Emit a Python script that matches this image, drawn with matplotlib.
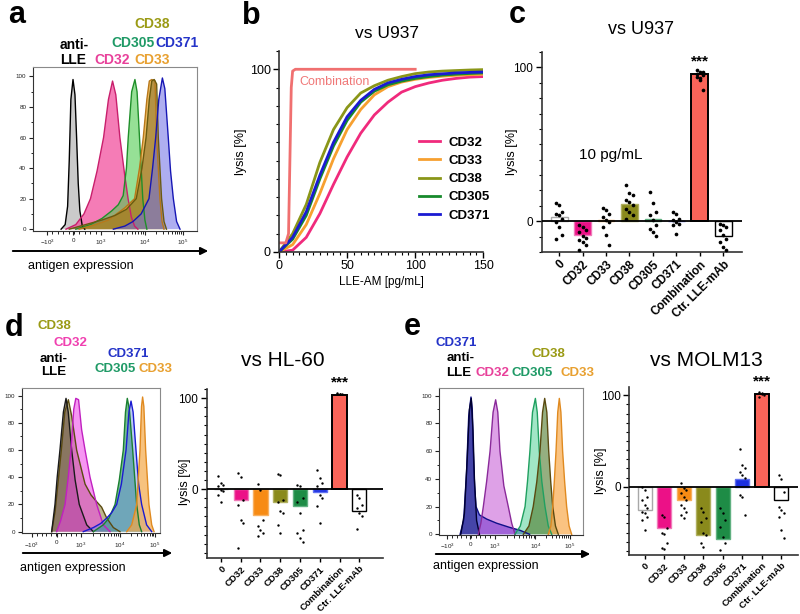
import numpy as np
import matplotlib
matplotlib.use("Agg")
import matplotlib.pyplot as plt
from matplotlib.patches import FancyArrowPatch
from matplotlib.ticker import MultipleLocator, FixedLocator

plt.rcParams["font.family"] = ["Liberation Sans", "DejaVu Sans"]
plt.rcParams["mathtext.fontset"] = "custom"
plt.rcParams["mathtext.rm"] = "Liberation Sans"

W, H = 800, 614

# ---------------------------------------------------------------- data
CATS = ["0", "CD32", "CD33", "CD38", "CD305", "CD371", "Combination", "Ctr. LLE-mAb"]

# panel b: lysis vs LLE-AM dose
B_X = [0, 10, 20, 30, 40, 50, 60, 70, 80, 90, 100, 110, 120, 130, 140, 150]
B_CD32 = [0, 1, 8, 21, 37, 52, 65, 75, 82, 87.5, 90.5, 92.5, 94, 95, 95.7, 96]
B_CD33 = [0, 4, 15, 32, 51, 67, 78, 86, 90.5, 93, 94.5, 95.5, 96.2, 96.7, 97, 97.3]
B_CD38 = [0, 10, 26, 49, 67, 79, 87, 91, 94, 96, 97.6, 98.5, 99, 99.3, 99.6, 99.8]
B_CD305 = [0, 7, 20, 40, 58, 72, 82, 88, 91.5, 93.5, 95, 96, 96.8, 97.3, 97.7, 98]
B_CD371 = [0, 8, 22, 42, 60, 74, 83, 89, 92.5, 94.5, 96, 97, 97.5, 98, 98.3, 98.5]
B_COMB_X = [0, 5, 7, 8, 9, 10, 12, 100]
B_COMB_Y = [5, 5, 10, 50, 90, 99, 100, 100]

# panel c: vs U937, 10 pg/mL
C_BARS = [3, -9, 0.5, 11, 1.5, 0.3, 96, -9.5]
C_DOTS = [
    [12.1, 10.4, 6.1, 5.0, 3.9, 1.7, -0.4, -3.7, -9.1, -11.3],
    [-2.6, -3.7, -5.8, -6.9, -9.7, -10.6, -12.3, -13.4, -15.6, -18.8],
    [8.9, 7.1, 5.0, 2.8, 0.6, -0.4, -3.7, -9.1, -15.6],
    [23.4, 18.4, 16.9, 13.6, 12.6, 10.4, 8.2, 6.1, 3.9, 1.7],
    [19, 11.9, 6.1, 3.9, 0.6, -2.6, -4.8, -6.9, -9.7],
    [6.1, 5.0, 1.7, 0.6, -0.4, -1.5, -2.6, -8.0],
    [96, 97, 95, 94, 93, 97, 98, 92, 85],
    [-2, -2.6, -3.7, -5.8, -9.1, -11.3, -13.4, -16.7, -18.8],
]

# panel d: vs HL-60
D_BARS = [0.3, -12, -28, -14, -19, -3, 103, -24]
D_DOTS = [
    [13.9, 6.6, 4.8, 2.9, -0.7, -2.6, -6.2, -13.6],
    [17.6, 13.2, -11.7, -17.2, -33.7, -37.4, -64.8],
    [5.9, -0.7, -33.7, -41, -44.7, -48.4, -52],
    [16.8, 15.8, -11.7, -13.6, -24.5, -26.4, -39.2, -48.4],
    [4.8, 3.7, -9.9, -13.6, -26.4, -44.7, -48.4, -53.8, -58.6],
    [21.2, 12.1, 6.6, 2.9, -6.2, -9.9, -19, -37.4],
    [106, 105, 104, 105, 104],
    [-6.2, -9.9, -17.2, -20.9, -26.4, -30, -43.6],
]

# panel e: vs MOLM13
E_BARS = [-25, -45, -14, -53, -57, 9, 101, -14]
E_DOTS = [
    [-0.7, -3.6, -10.9, -14.5, -20, -23.6, -27.3, -29.1, -32.7, -36.4, -47.3],
    [-30.9, -32.7, -45.5, -50.9, -51.6, -61.8, -67.3, -68],
    [3.6, -1.8, -3.6, -7.3, -10.9, -14.5, -20, -23.6, -27.3, -30.9, -34.5],
    [-23.6, -27.3, -34.5, -38.2, -50.9, -52.7, -61.8, -65.5],
    [-23.6, -29.1, -36.4, -43.6, -54.5, -61.8, -69.1],
    [41.8, 23.6, 20, 16.4, 12.7, 9.1, -9.1, -10.9, -30.9],
    [103.6, 101.8, 100, 98.2, 102],
    [12.7, 8, -5.5, -21.8, -25.5, -29.1, -32.7, -47.3, -56.4],
]

# flow histograms: x in display channel units (0-100 across the plot box), y in % of max
HIST_TICK_LABELS = ["$-10^3$", "0", "$10^3$", "$10^4$", "$10^5$"]
A_TICKS = [8.4, 24.3, 41.4, 68.3, 91.6]
D_TICKS = [7.0, 25.1, 42.8, 71.0, 96.4]
E_TICKS = [5.4, 21.6, 38.5, 67.0, 91.0]

A_LLE_X = [17, 19.5, 21, 22, 23, 24.3, 25.5, 26.5, 27.5, 28.5, 30, 31.5]
A_LLE_Y = [0, 3, 15, 45, 85, 98, 88, 60, 30, 12, 2, 0]
A_CD32_X = [20, 26, 31, 35, 39, 43, 46, 48.5, 50.5, 53, 56, 58, 60, 62, 64]
A_CD32_Y = [0, 3, 10, 20, 38, 60, 85, 97, 88, 60, 35, 20, 8, 2, 0]
A_CD305_X = [26, 35, 42, 48, 52, 55, 57, 58.1, 60.2, 62.2, 63.5, 65, 67, 68.3, 69.5]
A_CD305_Y = [0, 3, 7, 12, 16, 22, 40, 60, 90, 98, 90, 60, 20, 6, 0]
A_CD33_X = [28, 38, 46, 51, 56, 62, 65, 67.3, 69.5, 71, 72.5, 74.5, 75.5, 77.5, 78.8, 80]
A_CD33_Y = [0, 3, 6, 10, 14, 20, 40, 60, 85, 97, 98, 97, 60, 20, 5, 0]
A_CD38_X = [22, 32, 42, 50, 57, 63, 66.5, 69, 71, 72.5, 74, 75.5, 76.5, 78.5, 80, 81.5]
A_CD38_Y = [0, 3, 6, 9, 13, 20, 40, 60, 85, 97, 98, 95, 60, 20, 5, 0]
A_CD371_X = [49, 56, 61, 66, 70.8, 73, 74.9, 76.8, 79, 80.5, 82.6, 84, 85.7, 87.7, 89.8]
A_CD371_Y = [0, 2, 5, 10, 20, 40, 60, 85, 99, 92, 60, 38, 20, 5, 0]

D_LLE_X = [21.5, 23.9, 25.5, 27.5, 30, 31.9, 33.5, 36, 38.5, 41.5, 46.9, 51.7]
D_LLE_Y = [0, 20, 40, 60, 88, 98, 88, 60, 38, 20, 5, 0]
D_CD38_X = [21.5, 24, 26, 28.5, 31, 33.6, 36, 39.6, 45.7, 50, 54.1, 57.7, 61.4, 66.2, 71]
D_CD38_Y = [0, 15, 35, 60, 88, 97, 85, 60, 35, 27, 22, 18, 10, 3, 0]
D_CD32_X = [25.1, 28, 31.2, 33.5, 35.5, 37.5, 39, 41, 43.2, 45.7, 49.3, 54.1, 58.9, 63.8]
D_CD32_Y = [0, 8, 20, 40, 60, 90, 98, 97, 75, 60, 40, 20, 5, 0]
D_CD305_X = [51.7, 58.9, 63, 67.4, 70.5, 73.4, 75, 76.3, 77.8, 80.2, 83.1, 85, 86.7]
D_CD305_Y = [0, 5, 10, 20, 38, 60, 88, 98, 90, 60, 20, 5, 0]
D_CD371_X = [44.4, 51.7, 57, 61.4, 65, 68.6, 72, 75.4, 77.5, 79, 80.5, 82.6, 84.5, 86.7, 90.3, 94]
D_CD371_Y = [0, 3, 6, 10, 14, 20, 35, 60, 88, 96, 88, 60, 35, 20, 5, 0]
D_CD33_X = [75.9, 79.5, 83.1, 85.5, 86.6, 87.4, 88.3, 89.6, 92, 94, 95.7]
D_CD33_Y = [0, 5, 20, 60, 92, 99, 92, 60, 20, 5, 0]

E_CD371_X = [14.5, 17, 19, 20.5, 22.1, 23, 23.7, 24.6, 25.6, 28, 33, 40, 49, 56, 63]
E_CD371_Y = [0, 10, 45, 85, 99, 90, 60, 35, 20, 14, 11, 8, 5, 3, 0]
E_LLE_X = [15, 17.5, 19.5, 21, 22.3, 23.5, 24.5, 26, 28]
E_LLE_Y = [0, 15, 55, 90, 98, 75, 40, 10, 0]
E_CD32_X = [27.2, 29, 30.7, 33, 35.4, 37.5, 39.3, 40.8, 42.3, 45, 48.1, 50.5, 52.8]
E_CD32_Y = [0, 8, 20, 38, 60, 88, 97, 88, 60, 35, 20, 8, 0]
E_CD305_X = [52.8, 56.5, 59.8, 61.5, 63.2, 65, 67, 68.3, 69.7, 71.5, 73.7, 76, 78.4]
E_CD305_Y = [0, 6, 20, 38, 60, 88, 98, 88, 60, 38, 20, 6, 0]
E_CD38_X = [58.6, 62.5, 65.5, 68, 70.2, 72, 73.5, 75, 76.3, 77.7, 79.1, 81, 83]
E_CD38_Y = [0, 6, 20, 38, 60, 88, 98, 88, 60, 38, 20, 6, 0]
E_CD33_X = [76, 77.8, 79.1, 80.2, 81.4, 82.6, 83.7, 84.8, 86, 87.4, 88.8, 90.5, 92.3]
E_CD33_Y = [0, 6, 20, 38, 60, 88, 98, 88, 60, 38, 20, 6, 0]

# ---------------------------------------------------------------- colours
OLIVE_T, GREEN_T, BLUE_T = "#9a9a14", "#1f9a66", "#2433c8"
PINK_T, ORANGE_T = "#e8409a", "#e8a030"
BAR_COLORS = ["white", "#ec1187", "#f78b14", "#8a8a1c", "#1e8c46", "#1a2ee0", "#fa6459", "white"]
BAR_EDGES = ["#a8a8a8", "#f07ab8", "#f8b060", "#b0b060", "#60b080", "#6070f0", "black", "black"]
C_BAR_COLORS = BAR_COLORS[:4] + ["#c4dcd2"] + BAR_COLORS[5:]


def box(left, top, right, bottom):
    return [left / W, 1 - bottom / H, (right - left) / W, (bottom - top) / H]


def ftext(fig, x, y, s, **kw):
    kw.setdefault("ha", "center")
    kw.setdefault("va", "center")
    fig.text(x / W, 1 - y / H, s, **kw)


def arrow(fig, x0, x1, y):
    fig.add_artist(FancyArrowPatch((x0 / W, 1 - y / H), (x1 / W, 1 - y / H),
                                   transform=fig.transFigure, arrowstyle="-|>",
                                   mutation_scale=11, lw=1.4, color="black"))


def style_hist(ax, ticks, ylim):
    ax.set_xlim(0, 100)
    ax.set_ylim(*ylim)
    for s in ax.spines.values():
        s.set_color("#8a8a8a")
        s.set_linewidth(0.8)
    ax.spines["left"].set_color("#333333")
    ax.spines["bottom"].set_color("#333333")
    ax.set_xticks(ticks, HIST_TICK_LABELS, fontsize=4.5)
    minors = list(np.linspace(ticks[0], ticks[2], 11))
    for a, b in zip(ticks[2:-1], ticks[3:]):
        minors += [a + (b - a) * np.log10(m) for m in range(2, 10)]
    ax.xaxis.set_minor_locator(FixedLocator(minors))
    ax.set_yticks([0, 20, 40, 60, 80, 100], ["0", "20", "40", "60", "80", "100"], fontsize=4.5)
    ax.yaxis.set_minor_locator(MultipleLocator(10))
    ax.tick_params(length=3, width=0.8, pad=2, colors="#222222")
    ax.tick_params(which="minor", length=1.8, width=0.6)


def hist(ax, x, y, fill, edge, alpha):
    ax.fill(x, y, color=fill, alpha=alpha, lw=0)
    ax.plot(x, y, color=edge, lw=1.0)


def bar_panel(ax, bars, dots, colors, xlim, ylim, dot_size, label_size):
    pos = np.arange(len(CATS))
    ax.bar(pos, bars, width=0.72, color=colors, edgecolor=BAR_EDGES, linewidth=1.0, zorder=2)
    ax.patches[6].set_linewidth(1.4)
    for i, vals in enumerate(dots):
        offs = ((np.arange(len(vals)) % 3) - 1) * 0.13
        ax.scatter(pos[i] + offs, vals, s=dot_size, color="black", lw=0, zorder=3)
    ax.axhline(0, color="black", lw=1.3, zorder=4)
    ax.set_xlim(*xlim)
    ax.set_ylim(*ylim)
    for side in ("top", "right"):
        ax.spines[side].set_visible(False)
    for side in ("left", "bottom"):
        ax.spines[side].set_linewidth(1.2)
        ax.spines[side].set_color("#333333")
    ax.set_xticks(pos)
    ax.set_xticklabels(CATS, rotation=45, ha="right", rotation_mode="anchor",
                       fontsize=label_size, fontweight="bold")
    ax.set_yticks([0, 100], ["0", "100"], fontsize=8.5)
    ax.yaxis.set_minor_locator(MultipleLocator(10))
    ax.tick_params(axis="x", length=3, width=1, pad=1.5)
    ax.tick_params(axis="y", length=4, width=1, pad=2)
    ax.tick_params(which="minor", length=2.5, width=0.8)
    ax.set_ylabel("lysis [%]", fontsize=9)


fig = plt.figure(figsize=(8.0, 6.14), dpi=100)

# ---------------------------------------------------------------- panel a
ax = fig.add_axes(box(33.3, 67.3, 196.7, 230.7))
hist(ax, A_LLE_X, A_LLE_Y, "#a8a8a8", "black", 0.6)
hist(ax, A_CD32_X, A_CD32_Y, "#f2509e", "#c81f6c", 0.75)
hist(ax, A_CD305_X, A_CD305_Y, "#50cc50", "#1f8f2a", 0.6)
hist(ax, A_CD33_X, A_CD33_Y, "#e8a020", "#b8781a", 0.7)
hist(ax, A_CD38_X, A_CD38_Y, "#7c6a28", "#6a5a10", 0.5)
hist(ax, A_CD371_X, A_CD371_Y, "#6c6ce4", "#1616b4", 0.55)
style_hist(ax, A_TICKS, (-1, 106))
arrow(fig, 10, 211, 251)
ftext(fig, 28, 266, "antigen expression", fontsize=9, ha="left")
ftext(fig, 17, 15, "a", fontsize=22, fontweight="bold")
lab = dict(fontsize=10, fontweight="bold")
ftext(fig, 151.7, 24, "CD38", color=OLIVE_T, **lab)
ftext(fig, 74, 45, "anti-", color="black", **lab)
ftext(fig, 133.3, 43.3, "CD305", color=GREEN_T, **lab)
ftext(fig, 176.7, 43.3, "CD371", color=BLUE_T, **lab)
ftext(fig, 73.3, 60, "LLE", color="black", **lab)
ftext(fig, 111.7, 60, "CD32", color=PINK_T, **lab)
ftext(fig, 151.7, 60, "CD33", color=ORANGE_T, **lab)

# ---------------------------------------------------------------- panel b
ax = fig.add_axes(box(279, 51, 483.3, 252))
for vals, col, name in [(B_CD32, "#f02a7c", "CD32"), (B_CD33, "#f7a030", "CD33"),
                        (B_CD38, "#8a9618", "CD38"), (B_CD305, "#178a2c", "CD305"),
                        (B_CD371, "#1a1ad2", "CD371")]:
    ax.plot(B_X, vals, color=col, lw=2, label=name)
ax.plot(B_COMB_X, B_COMB_Y, color="#f07070", lw=2)
ax.text(15, 93, "Combination", color="#f07878", fontsize=9, va="center")
ax.set_xlim(0, 150)
ax.set_ylim(0, 110)
for side in ("top", "right"):
    ax.spines[side].set_visible(False)
for side in ("left", "bottom"):
    ax.spines[side].set_linewidth(1.2)
    ax.spines[side].set_color("#333333")
ax.set_xticks([0, 50, 100, 150])
ax.set_yticks([0, 100])
ax.xaxis.set_minor_locator(MultipleLocator(5))
ax.yaxis.set_minor_locator(MultipleLocator(10))
ax.tick_params(labelsize=9, length=4, width=1, pad=2)
ax.tick_params(which="minor", length=2.5, width=0.8)
ax.set_xlabel("LLE-AM [pg/mL]", fontsize=8.5, labelpad=3)
ax.set_ylabel("lysis [%]", fontsize=9, labelpad=2)
ax.legend(frameon=False, loc="upper left", bbox_to_anchor=(0.66, 0.6), borderaxespad=0,
          handlelength=1.6, handletextpad=0.6, labelspacing=0.45,
          prop={"weight": "bold", "size": 9.5})
ftext(fig, 386.7, 33, "vs U937", fontsize=12.5)
ftext(fig, 251, 16, "b", fontsize=22, fontweight="bold")

# ---------------------------------------------------------------- panel c
ax = fig.add_axes(box(541.7, 52, 741.7, 252))
bar_panel(ax, C_BARS, C_DOTS, C_BAR_COLORS, (-0.74, 7.78), (-20, 110), 7, 8.5)
ax.yaxis.set_label_coords(-0.12, 0.5)
ax.text(2.2, 43, "10 pg/mL", fontsize=11, ha="center", va="center")
ax.text(6, 104, "***", fontsize=11, fontweight="bold", ha="center", va="center")
ftext(fig, 640.7, 30, "vs U937", fontsize=13)
ftext(fig, 517, 15, "c", fontsize=22, fontweight="bold")

# ---------------------------------------------------------------- panel d
ax = fig.add_axes(box(22, 388.3, 160, 533.3))
hist(ax, D_CD38_X, D_CD38_Y, "#8a7a34", "#5a4a10", 0.55)
hist(ax, D_LLE_X, D_LLE_Y, "#4a2a2a", "#1a1a1a", 0.45)
hist(ax, D_CD32_X, D_CD32_Y, "#f040e8", "#c020c0", 0.55)
hist(ax, D_CD305_X, D_CD305_Y, "#2a9a5a", "#1a8030", 0.65)
hist(ax, D_CD371_X, D_CD371_Y, "#6a8ae8", "#1a1ad0", 0.45)
hist(ax, D_CD33_X, D_CD33_Y, "#f4a848", "#e08a20", 0.7)
style_hist(ax, D_TICKS, (-1.2, 105.4))
arrow(fig, 20, 175, 553)
ftext(fig, 20, 568, "antigen expression", fontsize=9, ha="left")
ftext(fig, 14, 328, "d", fontsize=22, fontweight="bold")
lab = dict(fontsize=9.5, fontweight="bold")
ftext(fig, 54, 326, "CD38", color=OLIVE_T, **lab)
ftext(fig, 70, 343.3, "CD32", color="#f040b0", **lab)
ftext(fig, 54, 359.3, "anti-", color="black", **lab)
ftext(fig, 127.7, 354, "CD371", color=BLUE_T, **lab)
ftext(fig, 53.3, 371.7, "LLE", color="black", **lab)
ftext(fig, 115, 369.3, "CD305", color=GREEN_T, **lab)
ftext(fig, 155.7, 369.3, "CD33", color=ORANGE_T, **lab)

ax = fig.add_axes(box(206.7, 389, 383, 558.3))
bar_panel(ax, D_BARS, D_DOTS, BAR_COLORS, (-0.72, 8.2), (-76, 110), 3, 6.8)
ax.yaxis.set_label_coords(-0.09, 0.45)
ax.text(6, 117, "***", fontsize=11, fontweight="bold", ha="center", va="center", clip_on=False)
ftext(fig, 283, 360, "vs HL-60", fontsize=15)

# ---------------------------------------------------------------- panel e
ax = fig.add_axes(box(439.3, 388, 582.7, 535))
hist(ax, E_CD371_X, E_CD371_Y, "#2a2ac8", "#10108a", 0.7)
hist(ax, E_LLE_X, E_LLE_Y, "#101060", "#000030", 0.4)
hist(ax, E_CD32_X, E_CD32_Y, "#c862d8", "#8a2a9a", 0.6)
hist(ax, E_CD305_X, E_CD305_Y, "#62d6a0", "#20a060", 0.6)
hist(ax, E_CD38_X, E_CD38_Y, "#4e7a2c", "#5a4a10", 0.6)
hist(ax, E_CD33_X, E_CD33_Y, "#f8aa4c", "#e08a20", 0.7)
style_hist(ax, E_TICKS, (-0.5, 105.5))
arrow(fig, 433, 593, 554)
ftext(fig, 433, 566, "antigen expression", fontsize=9, ha="left")
ftext(fig, 412, 327, "e", fontsize=22, fontweight="bold")
ftext(fig, 455.8, 343.3, "CD371", color=BLUE_T, **lab)
ftext(fig, 460.8, 358.3, "anti-", color="black", **lab)
ftext(fig, 548.3, 354, "CD38", color=OLIVE_T, **lab)
ftext(fig, 458.3, 372.7, "LLE", color="black", **lab)
ftext(fig, 492.8, 372.7, "CD32", color=PINK_T, **lab)
ftext(fig, 532.5, 372.7, "CD305", color=GREEN_T, **lab)
ftext(fig, 577.5, 372.7, "CD33", color=ORANGE_T, **lab)

ax = fig.add_axes(box(629.3, 387, 798, 555))
bar_panel(ax, E_BARS, E_DOTS, BAR_COLORS, (-0.8, 7.86), (-74.5, 109), 3, 6.8)
ax.yaxis.set_label_coords(-0.13, 0.5)
ax.text(6, 115, "***", fontsize=11, fontweight="bold", ha="center", va="center", clip_on=False)
ftext(fig, 706.7, 360, "vs MOLM13", fontsize=15)

fig.savefig("out.png", dpi=100, facecolor="white")
